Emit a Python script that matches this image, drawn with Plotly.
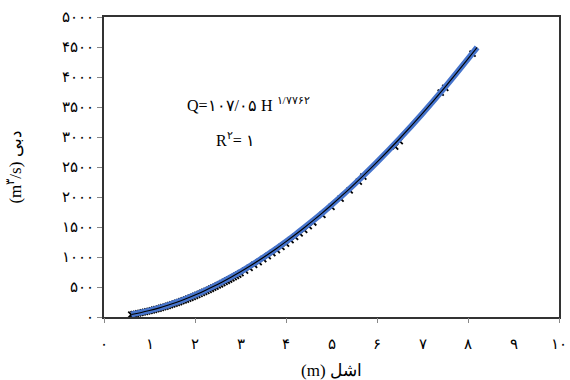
import plotly.graph_objects as go

obs_h = [0.6, 0.65, 0.7, 0.75, 0.8, 0.85, 0.9, 0.95, 1.0, 1.05, 1.1, 1.15, 1.2, 1.25, 1.3, 1.35, 1.4, 1.45, 1.5,
         1.55, 1.6, 1.65, 1.7, 1.75, 1.8, 1.85, 1.9, 1.95, 2.0, 2.05, 2.1, 2.15, 2.2, 2.25, 2.3, 2.35, 2.4, 2.45,
         2.5, 2.55, 2.6, 2.65, 2.7, 2.75, 2.8, 2.85, 2.9, 2.95, 3.0, 3.1, 3.2, 3.3, 3.4, 3.5, 3.6, 3.7, 3.8,
         3.9, 4.0, 4.1, 4.2, 4.3, 4.4, 4.5, 4.6, 4.8, 5.0, 5.2, 5.4, 5.6, 5.7, 6.4, 6.5, 7.4, 7.5, 8.1]
obs_q = [40, 47, 53, 61, 68, 76, 84, 93, 102, 111, 121, 131, 141, 152, 163, 174, 186, 198, 210,
         223, 236, 249, 263, 277, 291, 306, 321, 336, 352, 368, 384, 401, 418, 435, 453, 471, 489, 507,
         526, 545, 564, 584, 604, 624, 645, 666, 687, 708, 730, 774, 820, 867, 914, 963, 1013, 1064, 1116,
         1169, 1224, 1280, 1337, 1394, 1453, 1513, 1575, 1702, 1835, 1972, 2112, 2258, 2340, 2840, 2930, 3740, 3820, 4390]

# Fitted power curve Q = 107.05 H^1.7762
fit_h = [0.6, 0.8, 1.0, 1.2, 1.4, 1.6, 1.8, 2.0, 2.2, 2.4, 2.6, 2.8, 3.0, 3.2, 3.4, 3.6, 3.8, 4.0,
         4.2, 4.4, 4.6, 4.8, 5.0, 5.2, 5.4, 5.7, 6.0, 6.5, 7.0, 7.5, 8.1, 8.2]
fit_q = [43, 72, 107, 148, 195, 247, 304, 367, 434, 507, 584, 667, 753, 845, 941, 1042, 1147, 1256,
         1370, 1488, 1610, 1736, 1867, 2002, 2140, 2356, 2580, 2975, 3393, 3836, 4398, 4495]

fa = '۰۱۲۳۴۵۶۷۸۹'
def persian(n):
    return ''.join(fa[int(c)] for c in str(n))

x_vals = list(range(0, 11))
x_text = [persian(v) for v in x_vals]
y_vals = list(range(0, 5001, 500))
y_text = [persian(v) for v in y_vals]
x_tick_marks = [0, 2, 4, 6, 8, 10]

serif = "Liberation Serif, DejaVu Serif, serif"

fig = go.Figure()
fig.add_trace(go.Scatter(x=obs_h, y=obs_q, mode='markers',
                         marker=dict(symbol='x-thin', size=6, line=dict(color='black', width=1.8)),
                         showlegend=False))
fig.add_trace(go.Scatter(x=fit_h, y=fit_q, mode='lines', line=dict(color='#4674CC', width=6, shape='spline'),
                         showlegend=False))
fig.add_trace(go.Scatter(x=fit_h, y=fit_q, mode='lines', line=dict(color='black', width=1.1, shape='spline'),
                         showlegend=False))
# invisible trace to anchor the tick-mark axis
fig.add_trace(go.Scatter(x=[0, 10], y=[0, 0], xaxis='x2', mode='markers',
                         marker=dict(opacity=0), showlegend=False, hoverinfo='skip'))

fig.update_layout(
    width=570, height=380,
    margin=dict(l=104, r=11, t=17, b=63),
    paper_bgcolor='white', plot_bgcolor='white',
    font=dict(family=serif, color='black'),
    xaxis=dict(range=[0, 10], tickvals=x_vals, ticktext=x_text, ticks='', showgrid=False, zeroline=False,
               showline=True, linecolor='#333', linewidth=1.5, mirror=True, ticklabelstandoff=12,
               automargin=False, tickfont=dict(size=15, family=serif),
               title=dict(text='(m) اشل', font=dict(size=17, family=serif), standoff=16)),
    xaxis2=dict(range=[0, 10], overlaying='x', tickvals=x_tick_marks, showticklabels=False, ticks='outside',
                ticklen=5, tickcolor='#888', showgrid=False, zeroline=False, showline=False, side='bottom',
                anchor='y', automargin=False),
    yaxis=dict(range=[0, 5000], tickvals=y_vals, ticktext=y_text, ticks='outside', ticklen=5, tickcolor='#888',
               showgrid=False, zeroline=False, showline=True, linecolor='#333', linewidth=2, mirror=True,
               automargin=False, tickfont=dict(size=15, family=serif),
               title=dict(text='(m<sup>۳</sup>/s) دبی', font=dict(size=17, family=serif), standoff=36)),
    annotations=[
        dict(x=0.178, y=0.75, xref='paper', yref='paper', xanchor='left', showarrow=False,
             text='Q=۱۰۷/۰۵ H <sup>۱/۷۷۶۲</sup>', font=dict(size=16, family=serif)),
        dict(x=0.242, y=0.595, xref='paper', yref='paper', xanchor='left', showarrow=False,
             text='R<sup>۲</sup>= ۱', font=dict(size=16, family=serif)),
    ],
)

fig.write_html("out.html")
